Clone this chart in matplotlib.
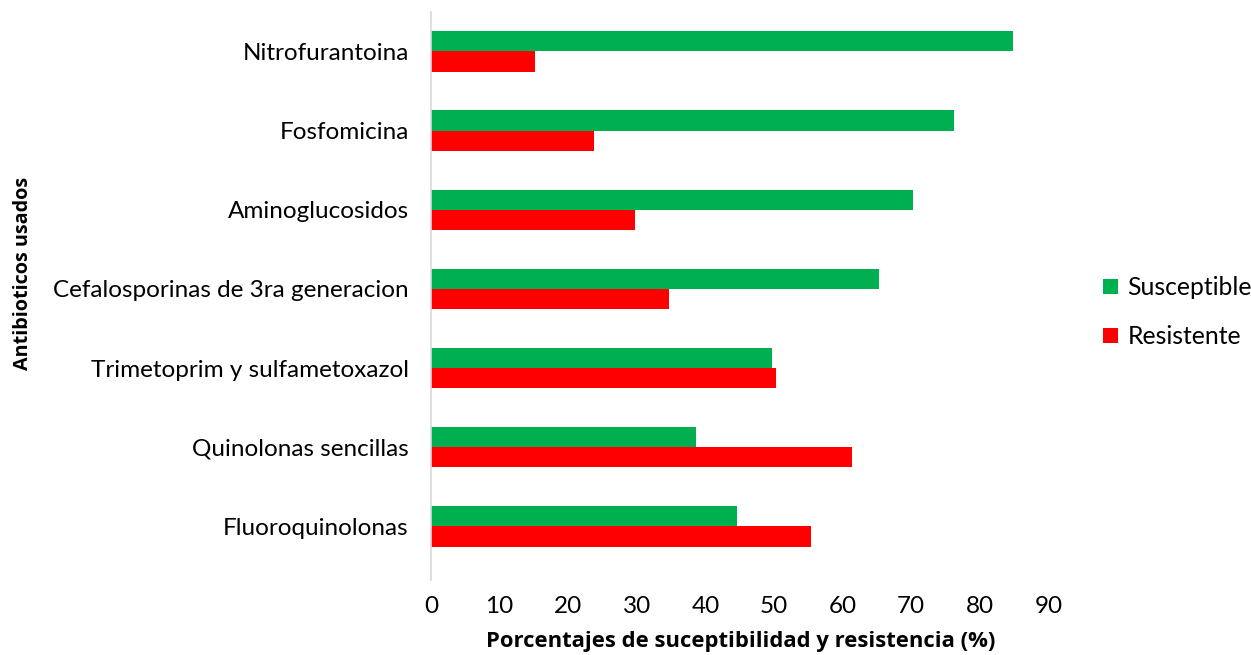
import matplotlib

matplotlib.use("Agg")
import matplotlib.pyplot as plt
import numpy as np

categories = [
    "Nitrofurantoina",
    "Fosfomicina",
    "Aminoglucosidos",
    "Cefalosporinas de 3ra generacion",
    "Trimetoprim y sulfametoxazol",
    "Quinolonas sencillas",
    "Fluoroquinolonas",
]
susceptible = [84.8, 76.2, 70.3, 65.3, 49.7, 38.6, 44.6]
resistente = [15.2, 23.8, 29.7, 34.7, 50.3, 61.4, 55.4]
x_ticks = [0, 10, 20, 30, 40, 50, 60, 70, 80, 90]

GREEN = "#00B050"
RED = "#FF0000"

fig = plt.figure(figsize=(12.51, 6.55), dpi=100)
ax = fig.add_axes([0.3445, 0.136, 0.4935, 0.846])

pos = np.arange(len(categories))
h = 0.255
ax.barh(pos - h / 2, susceptible, height=h, color=GREEN, label="Susceptible")
ax.barh(pos + h / 2, resistente, height=h, color=RED, label="Resistente")

ax.set_ylim(len(categories) - 0.5, -0.5)
ax.set_xlim(0, 90)
ax.set_yticks(pos)
ax.set_yticklabels(categories, fontfamily="Lato", fontsize=17.5)
ax.set_xticks(x_ticks)
ax.set_xticklabels([str(t) for t in x_ticks], fontfamily="Lato", fontsize=17.5)
ax.tick_params(axis="both", length=0)
ax.tick_params(axis="y", pad=16)
ax.tick_params(axis="x", pad=22)

for side in ("top", "right", "bottom"):
    ax.spines[side].set_visible(False)
ax.spines["left"].set_color("#d9d9d9")
ax.spines["left"].set_linewidth(1.2)
ax.spines["left"].set_bounds(len(categories) - 0.5 + 0.18, -0.5)
ax.spines["left"].set_clip_on(False)

fig.text(0.592, 0.021, "Porcentajes de suceptibilidad y resistencia (%)",
         ha="center", va="center",
         fontfamily="Open Sans", fontweight="bold", fontsize=15.8)
fig.text(0.018, 0.582, "Antibioticos usados", rotation=90, va="center", ha="center",
         fontfamily="Open Sans", fontweight="bold", fontsize=14.2)

ax.legend(loc="center left", bbox_to_anchor=(1.052, 0.458), frameon=False,
          prop={"family": "Lato", "size": 17.8}, handlelength=0.6, handleheight=0.6,
          handletextpad=0.4, labelspacing=1.05)

fig.savefig("out.png", dpi=100)
